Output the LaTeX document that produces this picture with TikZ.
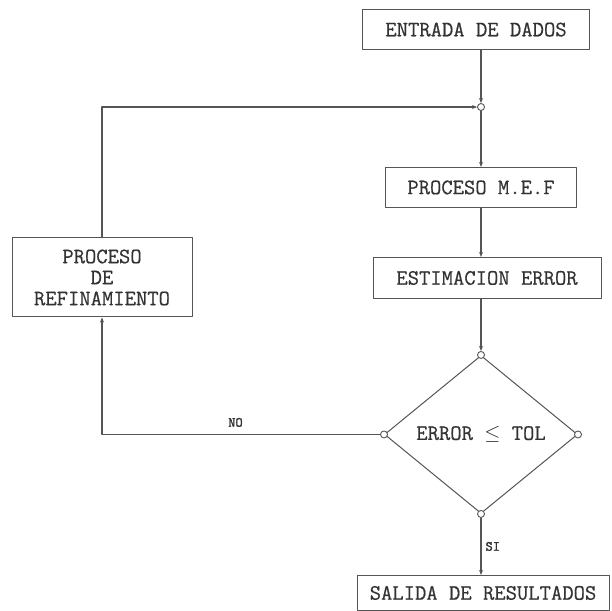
\documentclass[tikz,border=0pt]{standalone}
\usepackage{fontspec}
\setmonofont[FakeBold=0.6]{Latin Modern Mono}
\newfontfamily\lblmono[FakeBold=2]{Latin Modern Mono}
\usetikzlibrary{arrows.meta, positioning, shapes.geometric}
\definecolor{ink}{HTML}{555555}
\definecolor{txt}{HTML}{333333}
\tikzset{
  >={Stealth[length=5pt, width=4pt]},
  every picture/.style={line cap=round, line join=round},
  box/.style={draw=ink, line width=1pt, minimum height=40pt, inner sep=0pt,
              font=\ttfamily\fontsize{22}{21}\selectfont, text=txt, align=center},
  dec/.style={diamond, draw=ink, line width=1pt, minimum width=193pt, minimum height=158pt,
              inner sep=0pt, font=\ttfamily\fontsize{22}{21}\selectfont, text=txt},
  port/.style={circle, draw=ink, fill=white, line width=0.9pt, inner sep=0pt, minimum size=7pt},
  sig/.style={->, draw=ink, line width=1.1pt},
  lbl/.style={font=\lblmono\fontsize{14}{14}\selectfont, text=txt, inner sep=1pt},
}

\begin{document}
\begin{tikzpicture}[x=1pt, y=1pt]
  \useasboundingbox (0,0) rectangle (612,610);
  % main column
  \node[port] (jn) at (481,503) {};
  \node[box, minimum width=227pt, above=53pt of jn, xshift=-5pt] (entrada) {ENTRADA DE DADOS};
  \node[box, minimum width=191pt, below=56pt of jn] (mef) {PROCESO M.E.F};
  \node[box, minimum width=228pt, minimum height=41pt, below=49pt of mef, xshift=6pt] (estim) {ESTIMACION ERROR};
  \node[dec, below=56pt of estim, xshift=-6pt] (dec) {ERROR $\leq$ TOL};
  \node[box, minimum width=252pt, minimum height=35pt, below=61pt of dec, xshift=2pt] (salida) {SALIDA DE RESULTADOS};
  % loop back
  \node[box, minimum width=180pt, minimum height=79pt] (ref) at (102,332.5) {PROCESO\\DE\\REFINAMIENTO};
  % diamond corners
  \node[port] (dn) at (dec.north) {};
  \node[port] (dw) at (dec.west) {};
  \node[port] (de) at (dec.east) {};
  \node[port] (ds) at (dec.south) {};
  % connections
  \draw[sig] (entrada.south -| jn) -- (jn);
  \draw[sig] (jn) -- (mef);
  \draw[sig] (mef) -- (mef |- estim.north);
  \draw[sig] (estim.south -| dn) -- (dn);
  \draw[sig] (ds) -- node[lbl, right=3pt] {SI} (ds |- salida.north);
  \draw[sig] (dw) -| node[lbl, pos=0.26, above=6pt] {NO} (ref.south);
  \draw[sig] (ref.north) |- (jn);
\end{tikzpicture}
\end{document}
